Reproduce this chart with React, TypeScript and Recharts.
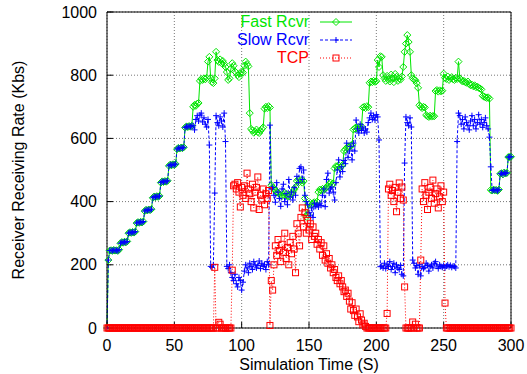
import { LineChart, Line, XAxis, YAxis, CartesianGrid, Legend } from "recharts";

const FONT = '"Liberation Sans", Arial, Helvetica, sans-serif';
const FAST_COLOR = "#00e600";
const SLOW_COLOR = "#0000ff";
const TCP_COLOR = "#ff0000";
const GRID_COLOR = "#777777";

const X_TICKS = [0, 50, 100, 150, 200, 250, 300];
const Y_TICKS = [0, 200, 400, 600, 800, 1000];

// sample clock: one reading per simulated second, 0..300 s
const TIME = Array.from({ length: 301 }, (_, i) => i);

// Fast Rcvr (Kbs), one value per second
const FAST = [
  0, 215, 245, 246, 244, 247, 245, 246, 244, 248,
  268, 272, 270, 273, 271, 274, 300, 303, 301, 304,
  302, 305, 332, 335, 333, 336, 334, 337, 370, 374,
  372, 375, 373, 376, 412, 416, 414, 417, 415, 418,
  460, 464, 462, 465, 463, 466, 513, 517, 515, 518,
  516, 519, 566, 570, 568, 571, 569, 572, 634, 638,
  636, 639, 637, 640, 700, 706, 703, 710, 712, 782,
  788, 785, 790, 787, 792, 843, 858, 791, 778, 775,
  790, 874, 848, 842, 850, 838, 845, 836, 826, 810,
  785, 790, 820, 838, 830, 812, 808, 800, 794, 805,
  812, 808, 830, 843, 835, 828, 680, 630, 625, 618,
  622, 628, 620, 617, 624, 630, 635, 694, 700, 696,
  702, 698, 452, 445, 440, 436, 430, 428, 425, 420,
  418, 422, 428, 424, 418, 416, 420, 426, 430, 438,
  446, 465, 470, 462, 468, 460, 465, 410, 352, 360,
  392, 396, 390, 395, 398, 393, 400, 430, 438, 436,
  440, 437, 442, 445, 450, 455, 460, 452, 458, 505,
  512, 510, 515, 508, 512, 516, 560, 565, 570, 575,
  572, 578, 580, 628, 632, 635, 630, 636, 634, 638,
  698, 700, 696, 702, 699, 776, 780, 778, 782, 779,
  781, 848, 826, 860, 858, 800, 790, 782, 798, 786,
  780, 802, 790, 778, 804, 795, 782, 790, 786, 796,
  826, 874, 900, 927, 905, 874, 800, 790, 786, 784,
  775, 760, 705, 700, 696, 700, 698, 674, 670, 668,
  672, 669, 671, 670, 750, 753, 748, 752, 749, 751,
  805, 792, 788, 796, 785, 790, 794, 787, 785, 792,
  788, 843, 790, 785, 780, 782, 778, 776, 780, 772,
  768, 770, 765, 768, 762, 764, 760, 758, 755, 735,
  732, 730, 728, 730, 726, 437, 435, 438, 436, 437,
  434, 438, 488, 490, 486, 492, 489, 491, 541, 541,
  542,
];

// Slow Rcvr (Kbs)
const SLOW = [
  0, 215, 245, 246, 244, 247, 245, 246, 244, 248,
  268, 272, 270, 273, 271, 274, 300, 303, 301, 304,
  302, 305, 332, 335, 333, 336, 334, 337, 370, 374,
  372, 375, 373, 376, 412, 416, 414, 417, 415, 418,
  460, 464, 462, 465, 463, 466, 513, 517, 515, 518,
  516, 519, 566, 570, 568, 571, 569, 572, 634, 638,
  636, 639, 637, 640, 640, 627, 660, 672, 655, 674,
  680, 652, 665, 645, 636, 660, 579, 195, 192, 200,
  427, 672, 650, 640, 668, 655, 636, 680, 590, 195,
  188, 200, 175, 160, 150, 170, 140, 130, 160, 150,
  120, 145, 180, 200, 190, 175, 205, 195, 185, 210,
  200, 190, 198, 212, 188, 205, 195, 200, 185, 210,
  200, 642, 440, 445, 420, 398, 460, 430, 410, 385,
  440, 455, 400, 425, 390, 470, 415, 430, 405, 445,
  420, 480, 460, 505, 510, 470, 500, 420, 400, 390,
  365, 355, 380, 350, 395, 385, 390, 383, 395, 388,
  420, 440, 384, 470, 490, 427, 440, 446, 430, 405,
  460, 500, 532, 478, 510, 495, 530, 520, 585, 540,
  560, 575, 532, 585, 560, 658, 630, 617, 645, 625,
  636, 617, 630, 620, 650, 665, 680, 660, 672, 658,
  675, 668, 595, 194, 196, 190, 205, 188, 200, 195,
  210, 185, 195, 205, 175, 200, 190, 185, 198, 170,
  165, 522, 668, 650, 640, 665, 636, 215, 205, 190,
  198, 170, 200, 165, 195, 188, 192, 205, 198, 180,
  195, 200, 190, 205, 210, 196, 188, 200, 195, 192,
  198, 190, 196, 200, 194, 198, 192, 196, 195, 190,
  590, 680, 672, 645, 660, 630, 668, 650, 640, 627,
  655, 672, 640, 660, 630, 650, 675, 645, 660, 635,
  650, 665, 640, 630, 604, 510, 435, 438, 436, 437,
  434, 438, 488, 490, 486, 492, 489, 491, 541, 541,
  542,
];

// TCP (Kbs)
const TCP = [
  0, 0, 0, 0, 0, 0, 0, 0, 0, 0,
  0, 0, 0, 0, 0, 0, 0, 0, 0, 0,
  0, 0, 0, 0, 0, 0, 0, 0, 0, 0,
  0, 0, 0, 0, 0, 0, 0, 0, 0, 0,
  0, 0, 0, 0, 0, 0, 0, 0, 0, 0,
  0, 0, 0, 0, 0, 0, 0, 0, 0, 0,
  0, 0, 0, 0, 0, 0, 0, 0, 0, 0,
  0, 0, 0, 0, 0, 0, 0, 0, 0, 0,
  192, 0, 0, 18, 12, 0, 0, 0, 0, 0,
  0, 0, 0, 183, 450, 455, 440, 460, 430, 383,
  445, 420, 450, 410, 490, 440, 425, 400, 455, 380,
  430, 445, 478, 375, 420, 405, 440, 390, 425, 410,
  435, 8, 150, 120, 200, 260, 230, 280, 245, 210,
  265, 240, 300, 220, 255, 200, 270, 235, 290, 250,
  175, 330, 300, 260, 350, 380, 320, 365, 300, 340,
  310, 330, 280, 320, 290, 300, 265, 280, 250, 270,
  230, 260, 215, 235, 205, 220, 190, 200, 175, 185,
  160, 150, 165, 140, 150, 130, 115, 120, 100, 110,
  85, 60, 80, 55, 40, 60, 35, 20, 45, 25,
  10, 15, 5, 0, 0, 0, 0, 0, 0, 0,
  0, 0, 0, 0, 0, 0, 0, 0, 46, 440,
  455, 420, 435, 400, 445, 368, 430, 459, 410, 446,
  405, 130, 0, 0, 0, 0, 0, 19, 0, 12,
  0, 0, 0, 215, 440, 400, 460, 420, 375, 430,
  445, 410, 468, 395, 425, 440, 380, 415, 450, 400,
  430, 79, 0, 0, 0, 0, 0, 0, 0, 0,
  0, 0, 0, 0, 0, 0, 0, 0, 0, 0,
  0, 0, 0, 0, 0, 0, 0, 0, 0, 0,
  0, 0, 0, 0, 0, 0, 0, 0, 0, 0,
  0, 0, 0, 0, 0, 0, 0, 0, 0, 0,
  0,
];

const rows = TIME.map((t, i) => ({ t, fast: FAST[i], slow: SLOW[i], tcp: TCP[i] }));

const LEGEND = [
  { key: "fast", name: "Fast Rcvr", color: FAST_COLOR },
  { key: "slow", name: "Slow Rcvr", color: SLOW_COLOR },
  { key: "tcp", name: "TCP", color: TCP_COLOR },
];

function fastDot(p: any) {
  const { cx, cy, index } = p;
  const r = 3.5;
  return (
    <path
      key={`f${index}`}
      d={`M${cx} ${cy - r}L${cx + r} ${cy}L${cx} ${cy + r}L${cx - r} ${cy}Z`}
      fill="none"
      stroke={FAST_COLOR}
      strokeWidth={1}
    />
  );
}

function slowDot(p: any) {
  const { cx, cy, index } = p;
  const r = 3;
  return (
    <path
      key={`s${index}`}
      d={`M${cx - r} ${cy}H${cx + r}M${cx} ${cy - r}V${cy + r}`}
      stroke={SLOW_COLOR}
      strokeWidth={1}
    />
  );
}

function tcpDot(p: any) {
  const { cx, cy, index } = p;
  return (
    <rect
      key={`t${index}`}
      x={cx - 3}
      y={cy - 3}
      width={6}
      height={6}
      fill="none"
      stroke={TCP_COLOR}
      strokeWidth={1}
    />
  );
}

function sampleMarker(key: string) {
  if (key === "fast") return <path d="M16 5.5L19.5 9L16 12.5L12.5 9Z" fill="none" stroke={FAST_COLOR} />;
  if (key === "slow") return <path d="M13 9H19M16 6V12" stroke={SLOW_COLOR} />;
  return <rect x={13} y={6} width={6} height={6} fill="none" stroke={TCP_COLOR} />;
}

// gnuplot-style key: right-aligned names, then a short line sample with its marker
function LegendBox() {
  return (
    <div style={{ fontFamily: FONT, fontSize: 16 }}>
      {LEGEND.map((item) => (
        <div key={item.key} style={{ display: "flex", alignItems: "center", height: 18 }}>
          <span style={{ width: 109, textAlign: "right", color: item.color, lineHeight: "18px" }}>
            {item.name}
          </span>
          <svg width={32} height={18} style={{ marginLeft: 11, display: "block" }}>
            <line
              x1={0}
              y1={9}
              x2={32}
              y2={9}
              stroke={item.color}
              strokeWidth={1}
              strokeDasharray={item.key === "slow" ? "3 2" : item.key === "tcp" ? "1 2" : undefined}
            />
            {sampleMarker(item.key)}
          </svg>
        </div>
      ))}
    </div>
  );
}

const tickStyle = { fill: "#000", fontSize: 16, fontFamily: FONT };

export default function App() {
  return (
    <div style={{ position: "absolute", left: 0, top: 0, width: 527, height: 374, background: "#fff" }}>
      <LineChart width={527} height={374} data={rows} margin={{ top: 11, right: 15, bottom: 0, left: 0 }}>
        <CartesianGrid stroke={GRID_COLOR} strokeDasharray="1 2" />
        <XAxis
          dataKey="t"
          type="number"
          domain={[0, 300]}
          ticks={X_TICKS}
          height={46}
          tick={tickStyle}
          tickSize={-6}
          tickMargin={18}
          axisLine={{ stroke: "#000" }}
          tickLine={{ stroke: "#000" }}
          label={{ value: "Simulation Time (S)", position: "insideBottom", offset: 4, fill: "#000", fontSize: 16, fontFamily: FONT }}
        />
        <XAxis
          xAxisId="top"
          orientation="top"
          dataKey="t"
          type="number"
          domain={[0, 300]}
          ticks={X_TICKS}
          height={1}
          tick={false}
          tickSize={-6}
          axisLine={{ stroke: "#000" }}
          tickLine={{ stroke: "#000" }}
        />
        <YAxis
          type="number"
          domain={[0, 1000]}
          ticks={Y_TICKS}
          width={107}
          tick={tickStyle}
          tickSize={-6}
          tickMargin={16}
          axisLine={{ stroke: "#000" }}
          tickLine={{ stroke: "#000" }}
          label={{
            value: "Receiver Receiving Rate (Kbs)",
            angle: -90,
            position: "insideLeft",
            offset: 18,
            fill: "#000",
            fontSize: 16,
            fontFamily: FONT,
            style: { textAnchor: "middle" },
          }}
        />
        <YAxis
          yAxisId="right"
          orientation="right"
          type="number"
          domain={[0, 1000]}
          ticks={Y_TICKS}
          width={1}
          tick={false}
          tickSize={-6}
          axisLine={{ stroke: "#000" }}
          tickLine={{ stroke: "#000" }}
        />
        <Legend
          layout="vertical"
          align="center"
          verticalAlign="middle"
          content={LegendBox}
          wrapperStyle={{ left: 200, top: 13, width: 160, height: 54 }}
        />
        <Line
          type="linear"
          dataKey="fast"
          name="Fast Rcvr"
          stroke={FAST_COLOR}
          strokeWidth={1}
          dot={fastDot}
          activeDot={false}
          isAnimationActive={false}
        />
        <Line
          type="linear"
          dataKey="slow"
          name="Slow Rcvr"
          stroke={SLOW_COLOR}
          strokeWidth={1}
          strokeDasharray="3 2"
          dot={slowDot}
          activeDot={false}
          isAnimationActive={false}
        />
        <Line
          type="linear"
          dataKey="tcp"
          name="TCP"
          stroke={TCP_COLOR}
          strokeWidth={1}
          strokeDasharray="1 2"
          dot={tcpDot}
          activeDot={false}
          isAnimationActive={false}
        />
      </LineChart>
    </div>
  );
}
